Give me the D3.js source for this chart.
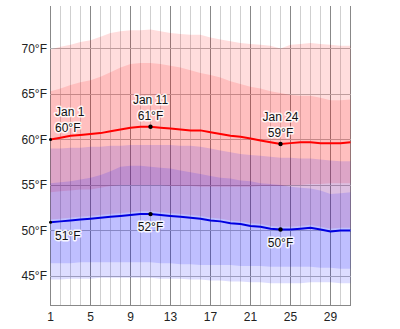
<!DOCTYPE html>
<html><head><meta charset="utf-8">
<script src="https://cdn.jsdelivr.net/npm/d3@7/dist/d3.min.js"></script>
<style>
html,body{margin:0;padding:0;background:#fff;}
svg{display:block;font-family:"Liberation Sans",Arial,sans-serif;}
</style></head>
<body><svg id="c" width="400" height="329"></svg>
<script>
const days = d3.range(1, 32);
const xTicks = [1,5,9,13,17,21,25,29];
const yTicks = [45,50,55,60,65,70];
const highP90 = [69.9,70.2,70.4,70.7,70.9,71.3,71.7,71.9,72.0,72.0,72.1,71.9,71.7,71.6,71.5,71.5,71.2,71.0,70.8,70.6,70.5,70.4,70.3,70.0,70.4,70.5,70.6,70.5,70.4,70.3,70.3];
const highP75 = [65.3,65.6,66.0,66.3,66.5,66.9,67.4,67.9,68.3,68.4,68.4,68.3,68.1,67.9,67.6,67.3,67.1,66.8,66.4,66.1,65.8,65.6,65.3,65.1,64.9,64.8,64.8,64.6,64.3,64.3,64.4];
const highMean = [60.0,60.2,60.4,60.5,60.6,60.7,60.9,61.1,61.3,61.4,61.4,61.3,61.2,61.1,61.0,61.0,60.8,60.6,60.4,60.3,60.1,59.9,59.7,59.5,59.6,59.7,59.7,59.6,59.6,59.6,59.7];
const highP25 = [54.2,54.3,54.4,54.5,54.5,54.7,54.9,55.0,55.0,55.0,55.0,55.0,54.9,54.9,54.9,54.8,54.8,54.8,54.8,54.8,54.8,54.9,54.9,54.9,55.0,55.0,55.1,55.1,55.2,55.2,55.2];
const highP10 = [51.2,51.3,51.4,51.5,51.6,51.7,51.8,51.9,52.0,52.1,52.1,52.0,51.9,51.8,51.7,51.6,51.4,51.3,51.1,51.0,50.8,50.7,50.5,50.4,50.4,50.5,50.6,50.4,50.2,50.3,50.3];
const lowP90 = [59.0,59.0,59.1,59.1,59.2,59.2,59.3,59.3,59.4,59.4,59.4,59.4,59.4,59.3,59.3,59.2,59.0,58.8,58.6,58.4,58.3,58.2,58.1,58.0,58.0,57.9,57.9,57.8,57.7,57.6,57.6];
const lowP75 = [55.2,55.3,55.4,55.6,55.8,56.1,56.5,57.0,57.1,57.1,57.0,56.9,56.8,56.6,56.4,56.2,56.0,55.8,55.7,55.5,55.4,55.2,55.1,55.0,54.8,54.7,54.6,54.4,54.0,54.1,54.2];
const lowMean = [50.9,51.0,51.1,51.2,51.3,51.4,51.5,51.6,51.7,51.8,51.8,51.7,51.6,51.5,51.4,51.3,51.1,51.0,50.8,50.7,50.5,50.4,50.2,50.1,50.1,50.2,50.3,50.1,49.9,50.0,50.0];
const lowP25 = [46.4,46.4,46.4,46.5,46.5,46.5,46.5,46.5,46.5,46.5,46.5,46.4,46.4,46.3,46.3,46.2,46.2,46.2,46.2,46.1,46.1,46.1,46.0,46.0,46.0,46.0,46.0,45.9,45.9,45.8,45.8];
const lowP10 = [44.6,44.6,44.7,44.7,44.7,44.8,44.8,44.8,44.8,44.8,44.8,44.7,44.7,44.7,44.6,44.6,44.5,44.5,44.4,44.4,44.3,44.3,44.2,44.2,44.2,44.2,44.3,44.3,44.3,44.2,44.2];
const highLabels = [{day:1, text:"Jan 1", val:"60°F"},{day:11, text:"Jan 11", val:"61°F"},{day:24, text:"Jan 24", val:"59°F"}];
const lowLabels = [{day:1, val:"51°F"},{day:11, val:"52°F"},{day:24, val:"50°F"}];

const svg = d3.select("#c");
const x = d3.scaleLinear().domain([1,31]).range([50.5,350.5]);
const y = d3.scaleLinear().domain([41.7,74.67]).range([306,6]);

// grid
const g = svg.append("g");
g.selectAll("line.v").data(days).join("line")
  .attr("x1", d=>x(d)).attr("x2", d=>x(d)).attr("y1", 6).attr("y2", 306)
  .attr("stroke", d=> (d===1 || d===31 || (d-1)%4===0) ? "#888" : "#cfcfcf").attr("stroke-width",1);
g.selectAll("line.h").data(yTicks).join("line")
  .attr("x1", 50).attr("x2", 351).attr("y1", d=>Math.round(y(d))+0.5).attr("y2", d=>Math.round(y(d))+0.5)
  .attr("stroke","#b4b4b4");
g.append("line").attr("x1",50).attr("x2",351).attr("y1",305.5).attr("y2",305.5).attr("stroke","#888");

// bands
const area = (lo, hi) => d3.area().x((d,i)=>x(days[i])).y0((d,i)=>y(lo[i])).y1((d,i)=>y(hi[i]))(days);
const bands = [
  [highP10, highP90, "rgb(255,0,0)"],
  [highP25, highP75, "rgb(255,0,0)"],
  [lowP10, lowP90, "rgb(0,0,255)"],
  [lowP25, lowP75, "rgb(0,0,255)"]
];
svg.append("g").selectAll("path").data(bands).join("path")
  .attr("d", d=>area(d[0], d[1])).attr("fill", d=>d[2]).attr("fill-opacity", 0.133);

// lines
const line = arr => d3.line().x((d,i)=>x(days[i])).y((d,i)=>y(arr[i]))(days);
svg.append("path").attr("d", line(highMean)).attr("fill","none").attr("stroke","#ff0000").attr("stroke-width",2);
svg.append("path").attr("d", line(lowMean)).attr("fill","none").attr("stroke","#0000e0").attr("stroke-width",2);

// dots
const dots = highLabels.map(l=>({d:l.day, v:highMean[l.day-1]})).concat(lowLabels.map(l=>({d:l.day, v:lowMean[l.day-1]})));
svg.append("g").selectAll("circle").data(dots).join("circle")
  .attr("cx", d=>x(d.d)).attr("cy", d=>y(d.v)).attr("r", d=> d.d===1 ? 1.5 : 2.2).attr("fill","#000");

// labels
const lab = svg.append("g").attr("font-size", 12).attr("fill","#111")
  .attr("stroke","#fff").attr("stroke-width",3).attr("stroke-opacity",0.85)
  .attr("paint-order","stroke").attr("stroke-linejoin","round");
highLabels.forEach(l=>{
  const anchor = l.day===1 ? "start" : "middle";
  const xx = l.day===1 ? x(l.day)+4.5 : x(l.day);
  const yy = y(highMean[l.day-1]);
  lab.append("text").attr("x", xx).attr("y", yy-23).attr("text-anchor", anchor).text(l.text);
  lab.append("text").attr("x", xx).attr("y", yy-7).attr("text-anchor", anchor).text(l.val);
});
lowLabels.forEach(l=>{
  const anchor = l.day===1 ? "start" : "middle";
  const xx = l.day===1 ? x(l.day)+4.5 : x(l.day);
  const yy = y(lowMean[l.day-1]);
  lab.append("text").attr("x", xx).attr("y", yy + (l.day===1 ? 18 : 17)).attr("text-anchor", anchor).text(l.val);
});

// axes labels
const ax = svg.append("g").attr("font-size",12).attr("fill","#222");
ax.selectAll("text.y").data(yTicks).join("text")
  .attr("x", 47).attr("y", d=>y(d)+4.5).attr("text-anchor","end").text(d=>d+"°F");
ax.selectAll("text.x").data(xTicks).join("text")
  .attr("x", d=>x(d)).attr("y", 321).attr("text-anchor","middle").text(d=>d);
</script></body></html>
